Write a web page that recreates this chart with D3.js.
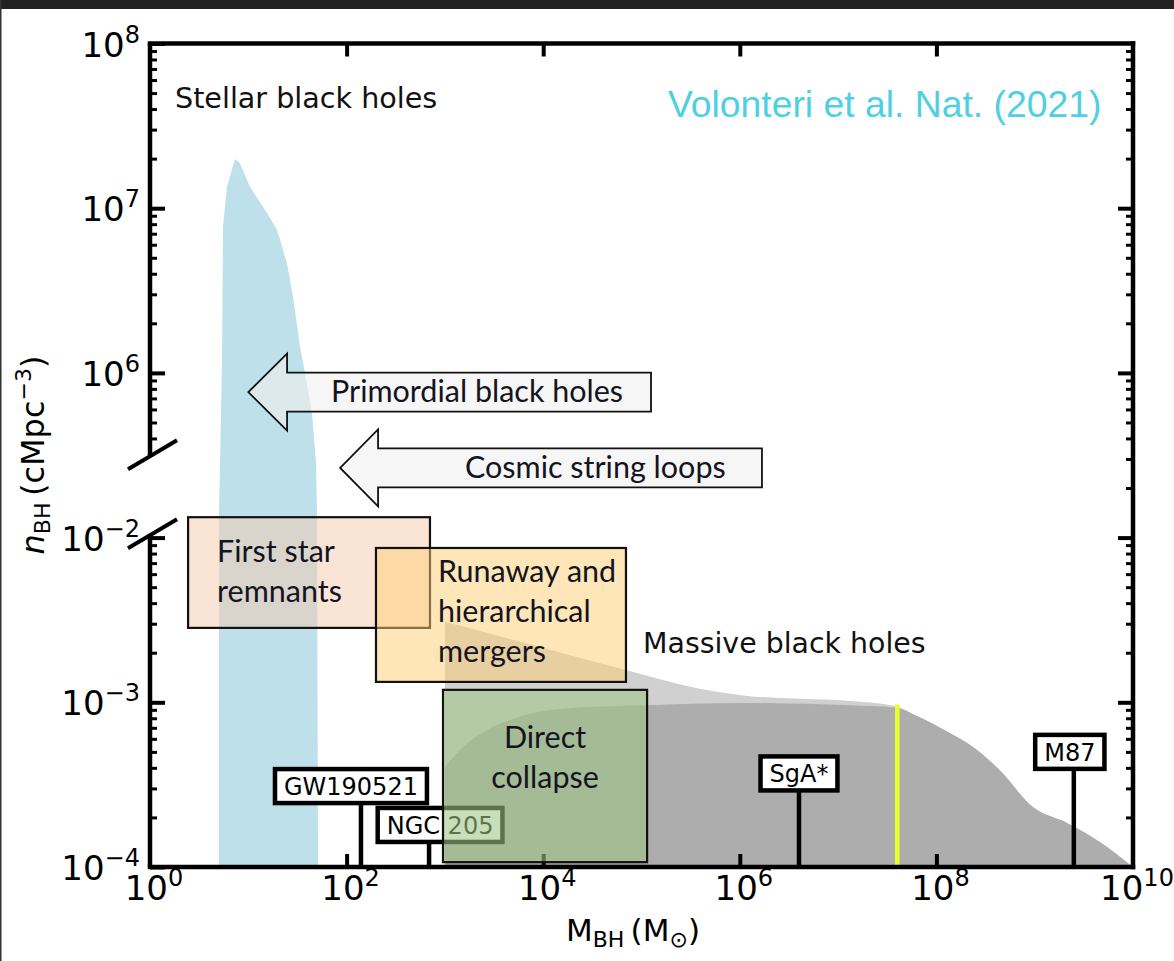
<!DOCTYPE html>
<html><head><meta charset="utf-8">
<script src="https://cdn.jsdelivr.net/npm/d3@7"></script>
<style>
body{margin:0;background:#fff}
svg{display:block}
</style>
</head><body>
<svg id="c" width="1174" height="961"></svg>
<script>
// ---------------- data ----------------
const xTickMajor = [1e2, 1e4, 1e6, 1e8];
const xTickLabels = [1, 1e2, 1e4, 1e6, 1e8, 1e10];
const yUpperTickLabels = [1e8, 1e7, 1e6];
const yLowerTickLabels = [1e-2, 1e-3, 1e-4];

// stellar black holes band (upper branch density), floor at 1e-4 of lower branch
const stellarMass    = [5.03, 5.40, 5.53, 6.07, 7.32, 8.2, 10.4, 15.5, 19.6, 24.8, 28.5, 33.6, 37.7, 44.5, 48.9, 50.0];
const stellarDensity = [1.33e5, 1.15e6, 7.7e6, 1.35e7, 1.99e7, 1.88e7, 1.35e7, 9.35e6, 7.4e6, 4.6e6, 2.9e6, 1.44e6, 1.0e6, 5.7e5, 2.84e5, 1.41e5];
const stellarMassRight = 51.2;

// massive black holes envelopes (lower branch)
const massiveUpperMass    = [1.0e3, 9.3e3, 6.95e4, 3.9e5, 1.27e6, 4.1e6, 1.32e7, 3.8e7, 6.35e7, 1.37e8, 2.36e8, 4.4e8, 9.6e8, 2.13e9, 4.6e9, 1e10];
const massiveUpperDensity = [3.08e-3, 2.17e-3, 1.57e-3, 1.21e-3, 1.09e-3, 1.05e-3, 1.02e-3, 9.5e-4, 8.26e-4, 6.5e-4, 5.36e-4, 3.88e-4, 2.31e-4, 1.85e-4, 1.42e-4, 1e-4];
const massiveLowerMass    = [1.0e3, 1.53e3, 2.68e3, 4.6e3, 8.6e3, 2.8e4, 1.14e5, 1.0e6, 1.32e7, 3.8e7, 6.35e7, 1.37e8, 2.36e8, 4.4e8, 9.6e8, 2.13e9, 4.6e9, 1e10];
const massiveLowerDensity = [4.05e-4, 5.36e-4, 6.8e-4, 7.8e-4, 8.7e-4, 9.35e-4, 9.6e-4, 9.9e-4, 9.6e-4, 9.3e-4, 8.26e-4, 6.5e-4, 5.36e-4, 3.88e-4, 2.31e-4, 1.85e-4, 1.42e-4, 1e-4];

// seed boxes [Mmin, Mmax, nmin, nmax] (lower branch)
const boxNames   = ["First star remnants", "Runaway and hierarchical mergers", "Direct collapse"];
const boxMassMin = [2.44, 199, 957];
const boxMassMax = [705, 6.95e4, 1.14e5];
const boxDensMin = [2.83e-3, 1.33e-3, 1.07e-4];
const boxDensMax = [1.33e-2, 8.65e-3, 1.19e-3];

// arrows (upper branch density): tip mass, head-back mass, tail mass, density
const arrowNames     = ["Primordial black holes", "Cosmic string loops"];
const arrowTipMass   = [10, 86];
const arrowHeadMass  = [24.8, 209];
const arrowTailMass  = [1.25e5, 1.68e6];
const arrowDensity   = [7.65e5, 2.65e5];

// observed black holes
const objNames   = ["GW190521", "NGC 205", "SgA*", "M87"];
const objMass    = [140, 690, 4.0e6, 2.5e9];
const objLabelN  = [3.1e-4, 1.8e-4, 3.7e-4, 5.0e-4];

const yellowMass = 4.0e7;
const yellowTop  = 9.7e-4;

// ---------------- scales ----------------
const svg = d3.select("#c");
const x   = d3.scaleLog().domain([1, 1e10]).range([150, 1133]);
const yHi = d3.scaleLog().domain([1e3, 1e8]).range([867, 43.5]);   // upper branch
const yLo = d3.scaleLog().domain([1e-4, 1e1]).range([867, 43.5]);  // lower branch
const FONT = "'DejaVu Sans', sans-serif";
const CAL = "Lato, 'Open Sans', sans-serif";
const CALSIZE = 30.5;

// frame
svg.append("rect").attr("x",0).attr("y",0).attr("width",1174).attr("height",961).attr("fill","#fff");
svg.append("rect").attr("x",0).attr("y",0).attr("width",1174).attr("height",9).attr("fill","#222");
svg.append("rect").attr("x",0).attr("y",0).attr("width",1.5).attr("height",961).attr("fill","#333");

// ---------------- massive BH areas ----------------
const area = d3.area().x(d=>x(d[0])).y0(yLo(1e-4)).y1(d=>yLo(d[1])).curve(d3.curveMonotoneX);
svg.append("path").attr("d", area(massiveUpperMass.map((m,i)=>[m, massiveUpperDensity[i]]))).attr("fill","#d0d0d0");
svg.append("path").attr("d", area(massiveLowerMass.map((m,i)=>[m, massiveLowerDensity[i]]))).attr("fill","#adadad");

// ---------------- stellar band ----------------
const bandPts = [[x(stellarMass[0]), yLo(1e-4)]]
  .concat(stellarMass.map((m,i)=>[x(m), yHi(stellarDensity[i])]))
  .concat([[x(stellarMassRight), yLo(1e-4)]]);
svg.append("path").attr("d", d3.line().curve(d3.curveLinear)(bandPts) + "Z").attr("fill","#bee0ea");

// yellow line
svg.append("line").attr("x1",x(yellowMass)).attr("x2",x(yellowMass))
  .attr("y1",yLo(yellowTop)).attr("y2",yLo(1e-4)).attr("stroke","#eaff2a").attr("stroke-width",4.5);

// ---------------- axes ----------------
function styleAxis(g, w){ g.select(".domain").remove(); g.selectAll("line").attr("stroke","#000").attr("stroke-width",w); }
function minorFor(d0, d1, from, to){ const a=[]; for(let d=d0; d<=d1; d++) for(let k=2;k<=9;k++){const v=k*Math.pow(10,d); if(v>=from && v<=to) a.push(v);} return a; }

const upperMinor = minorFor(5, 7, 4e5, 1e8);
const lowerMinor = minorFor(-4, -3, 1e-4, 1e-2);
const rightMinor = minorFor(3, 7, 1e3, 1e8);

svg.append("g").attr("transform","translate(150,0)").call(d3.axisLeft(yHi).tickValues(yUpperTickLabels).tickSize(-15).tickFormat("")).call(g=>styleAxis(g,4));
svg.append("g").attr("transform","translate(150,0)").call(d3.axisLeft(yHi).tickValues(upperMinor).tickSize(-7).tickFormat("")).call(g=>styleAxis(g,3));
svg.append("g").attr("transform","translate(150,0)").call(d3.axisLeft(yLo).tickValues(yLowerTickLabels).tickSize(-15).tickFormat("")).call(g=>styleAxis(g,4));
svg.append("g").attr("transform","translate(150,0)").call(d3.axisLeft(yLo).tickValues(lowerMinor).tickSize(-7).tickFormat("")).call(g=>styleAxis(g,3));
svg.append("g").attr("transform","translate(1133,0)").call(d3.axisRight(yHi).tickValues([1e4,1e5,1e6,1e7]).tickSize(-15).tickFormat("")).call(g=>styleAxis(g,4));
svg.append("g").attr("transform","translate(1133,0)").call(d3.axisRight(yHi).tickValues(rightMinor).tickSize(-7).tickFormat("")).call(g=>styleAxis(g,3));
svg.append("g").attr("transform","translate(0,867)").call(d3.axisBottom(x).tickValues(xTickMajor).tickSize(-13).tickFormat("")).call(g=>styleAxis(g,4));
svg.append("g").attr("transform","translate(0,43.5)").call(d3.axisTop(x).tickValues(xTickMajor).tickSize(-13).tickFormat("")).call(g=>styleAxis(g,4));

// spines
const sp = svg.append("g").attr("stroke","#000").attr("stroke-width",4.5).attr("stroke-linecap","square");
sp.append("line").attr("x1",150).attr("x2",1133).attr("y1",43.5).attr("y2",43.5);
sp.append("line").attr("x1",150).attr("x2",1133).attr("y1",867).attr("y2",867);
sp.append("line").attr("x1",1133).attr("x2",1133).attr("y1",43.5).attr("y2",867);
sp.append("line").attr("x1",150).attr("x2",150).attr("y1",43.5).attr("y2",yHi(Math.pow(10,5.5))).attr("stroke-linecap","butt");
sp.append("line").attr("x1",150).attr("x2",150).attr("y1",yLo(Math.pow(10,-1.98))).attr("y2",867).attr("stroke-linecap","butt");
// break marks
[yHi(Math.pow(10,5.5)), yLo(Math.pow(10,-1.98))].forEach(yc=>{
  svg.append("line").attr("x1",128).attr("y1",yc+14).attr("x2",177).attr("y2",yc-15).attr("stroke","#000").attr("stroke-width",4);
});

// tick labels
function powLabel(g, v, px, py, anchor){
  const e = Math.round(Math.log10(v));
  const t = g.append("text").attr("x",px).attr("y",py).attr("text-anchor",anchor)
    .attr("font-family",FONT).attr("font-size",34).attr("fill","#000");
  t.append("tspan").text("10");
  t.append("tspan").attr("dy",-14).attr("font-size",24).text(String(e).replace("-","\u2212"));
}
const lab = svg.append("g");
xTickLabels.forEach(v=>powLabel(lab, v, x(v)+4, 900, "middle"));
yUpperTickLabels.forEach(v=>powLabel(lab, v, 140, yHi(v)+13, "end"));
yLowerTickLabels.forEach(v=>powLabel(lab, v, 140, yLo(v)+13, "end"));

// axis titles
const yl = svg.append("text").attr("transform","translate(44,455) rotate(-90)").attr("text-anchor","middle")
  .attr("font-family",FONT).attr("font-size",32).attr("fill","#000");
yl.append("tspan").attr("font-style","italic").text("n");
yl.append("tspan").attr("font-size",22).attr("dy",6).text("BH");
yl.append("tspan").attr("dy",-6).text("\u2009(cMpc");
yl.append("tspan").attr("font-size",22).attr("dy",-13).text("\u22123");
yl.append("tspan").attr("dy",13).text(")");

const xl = svg.append("text").attr("x",633).attr("y",941).attr("text-anchor","middle")
  .attr("font-family",FONT).attr("font-size",31).attr("fill","#000");
xl.append("tspan").text("M");
xl.append("tspan").attr("font-size",22).attr("dy",6).text("BH");
xl.append("tspan").attr("dy",-6).text("\u2009(M");
xl.append("tspan").attr("font-size",22).attr("dy",6).text("\u2299");
xl.append("tspan").attr("dy",-6).text(")");

// region labels
svg.append("text").attr("x",175).attr("y",108).attr("font-family",FONT).attr("font-size",28.6).attr("fill","#111").text("Stellar black holes");
svg.append("text").attr("x",643).attr("y",653).attr("font-family",FONT).attr("font-size",28.4).attr("fill","#111").text("Massive black holes");
svg.append("text").attr("x",668).attr("y",117).attr("font-family","'Liberation Sans', Arial, sans-serif").attr("font-size",37.3).attr("fill","#4fd0e2").text("Volonteri et al. Nat. (2021)");

// ---------------- seed boxes (first two) ----------------
const boxFill = ["rgba(245,201,173,0.5)", "rgba(253,205,115,0.5)", "rgba(160,198,135,0.58)"];
function drawBox(i){
  svg.append("rect").attr("x",x(boxMassMin[i])).attr("y",yLo(boxDensMax[i]))
    .attr("width",x(boxMassMax[i])-x(boxMassMin[i])).attr("height",yLo(boxDensMin[i])-yLo(boxDensMax[i]))
    .attr("fill",boxFill[i]).attr("stroke","#111").attr("stroke-width",2.2);
}
drawBox(0); drawBox(1);
function boxText(lines, px, py, anchor){
  const t = svg.append("text").attr("font-family",CAL).attr("font-size",CALSIZE).attr("fill","#141420").attr("text-anchor",anchor);
  lines.forEach((s,k)=>t.append("tspan").attr("x",px).attr("y",py+40*k).text(s));
}
boxText(["First star","remnants"], x(boxMassMin[0])+29, yLo(boxDensMax[0])+45, "start");
boxText(["Runaway and","hierarchical","mergers"], x(boxMassMin[1])+62, yLo(boxDensMax[1])+34, "start");

// ---------------- arrows ----------------
arrowNames.forEach((name,i)=>{
  const xt=x(arrowTipMass[i]), xb=x(arrowHeadMass[i]), xr=x(arrowTailMass[i]), yc=yHi(arrowDensity[i]);
  const hs=19.5, hh=38.5;
  const pts=[[xt,yc],[xb,yc-hh],[xb,yc-hs],[xr,yc-hs],[xr,yc+hs],[xb,yc+hs],[xb,yc+hh]];
  svg.append("path").attr("d", d3.line()(pts)+"Z").attr("fill","rgba(240,240,240,0.6)").attr("stroke","#111").attr("stroke-width",1.8).attr("stroke-linejoin","miter");
});
svg.append("text").attr("x",331).attr("y",yHi(arrowDensity[0])+10).attr("font-family",CAL).attr("font-size",CALSIZE).attr("fill","#141420").text(arrowNames[0]);
svg.append("text").attr("x",465).attr("y",yHi(arrowDensity[1])+10).attr("font-family",CAL).attr("font-size",CALSIZE).attr("fill","#141420").text(arrowNames[1]);

// ---------------- observed objects ----------------
const labelDx = [-10, 11, 0, -4];
objNames.forEach((name,i)=>{
  const g = svg.append("g");
  const sx = x(objMass[i]), cy = yLo(objLabelN[i]);
  const h = 34;
  g.append("line").attr("x1",sx).attr("x2",sx).attr("y1",cy+h/2).attr("y2",867).attr("stroke","#000").attr("stroke-width",4.5);
  const t = g.append("text").attr("x",sx+labelDx[i]).attr("y",cy+9).attr("text-anchor","middle")
    .attr("font-family",FONT).attr("font-size",24).attr("fill","#000").text(name);
  const w = t.node().getComputedTextLength();
  g.insert("rect","text").attr("x",sx+labelDx[i]-w/2-9).attr("y",cy-h/2).attr("width",w+18).attr("height",h)
    .attr("fill","#fff").attr("stroke","#000").attr("stroke-width",4.5);
});

// direct collapse box drawn on top
drawBox(2);
boxText(["Direct","collapse"], (x(boxMassMin[2])+x(boxMassMax[2]))/2, yLo(boxDensMax[2])+58, "middle");
</script>
</body></html>
